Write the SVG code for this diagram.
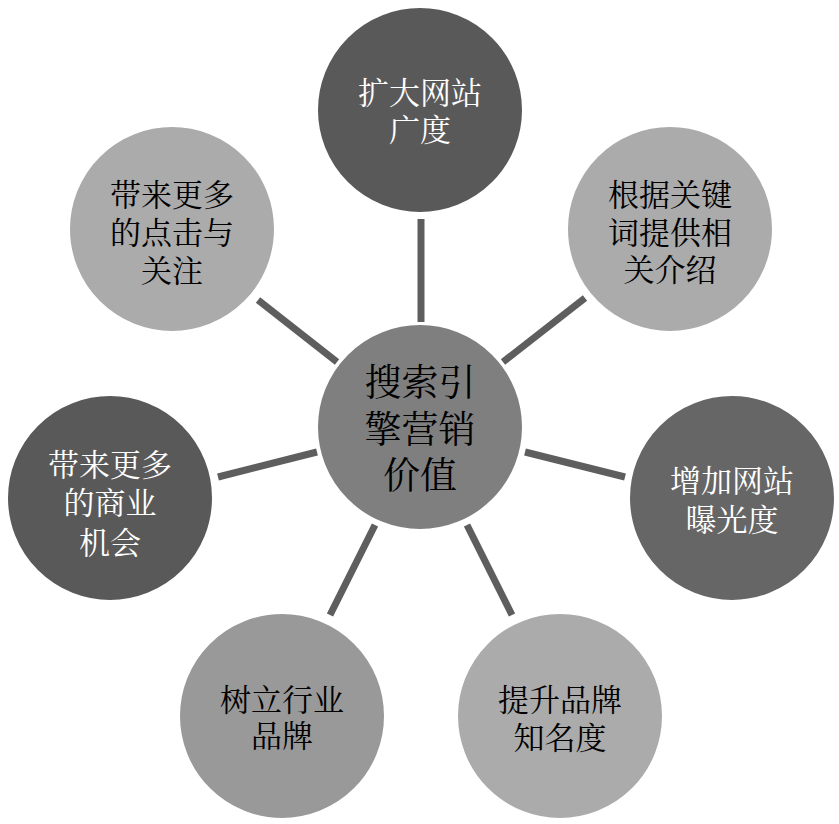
<svg xmlns="http://www.w3.org/2000/svg" width="839" height="824" viewBox="0 0 839 824">
<style>
text{font-family:"Noto Serif CJK SC","Noto Sans CJK SC",serif;text-anchor:middle;dominant-baseline:central;font-size:31px}
text.big{font-size:37px}
.d{fill:#fff}.l{fill:#000}
.c{stroke:#fff;stroke-width:2}
.ln{stroke:#5e5e5e;stroke-width:7;fill:none}
</style>
<rect width="839" height="824" fill="#fff"/>
<g id="connectors">
<line class="ln" x1="421" y1="219" x2="421" y2="322"/>
<line class="ln" x1="585" y1="298" x2="503" y2="362"/>
<line class="ln" x1="525" y1="452" x2="625" y2="477"/>
<line class="ln" x1="467" y1="525" x2="512" y2="615"/>
<line class="ln" x1="375" y1="525" x2="330" y2="615"/>
<line class="ln" x1="218" y1="477" x2="317" y2="452"/>
<line class="ln" x1="258" y1="300" x2="337" y2="362"/>
</g>
<g id="center">
<circle class="c" cx="420" cy="427" r="103" fill="#7f7f7f"/>
<text class="l big" x="420" y="380">搜索引</text>
<text class="l big" x="420" y="427">擎营销</text>
<text class="l big" x="420" y="473">价值</text>
</g>
<g id="n-top">
<circle class="c" cx="420" cy="110" r="103" fill="#595959"/>
<text class="d" x="420" y="90">扩大网站</text>
<text class="d" x="420" y="127">广度</text>
</g>
<g id="n-topright">
<circle class="c" cx="670" cy="229" r="103" fill="#ababab"/>
<text class="l" x="670" y="192">根据关键</text>
<text class="l" x="670" y="230">词提供相</text>
<text class="l" x="670" y="267">关介绍</text>
</g>
<g id="n-right">
<circle class="c" cx="732" cy="498" r="103" fill="#666666"/>
<text class="d" x="732" y="478">增加网站</text>
<text class="d" x="732" y="517">曝光度</text>
</g>
<g id="n-bottomright">
<circle class="c" cx="560" cy="716" r="103" fill="#ababab"/>
<text class="l" x="560" y="697">提升品牌</text>
<text class="l" x="560" y="735">知名度</text>
</g>
<g id="n-bottomleft">
<circle class="c" cx="282" cy="716" r="103" fill="#999999"/>
<text class="l" x="282" y="697">树立行业</text>
<text class="l" x="282" y="733">品牌</text>
</g>
<g id="n-left">
<circle class="c" cx="110" cy="498" r="103" fill="#595959"/>
<text class="d" x="110" y="462">带来更多</text>
<text class="d" x="110" y="500">的商业</text>
<text class="d" x="110" y="540">机会</text>
</g>
<g id="n-topleft">
<circle class="c" cx="172" cy="229" r="103" fill="#ababab"/>
<text class="l" x="172" y="192">带来更多</text>
<text class="l" x="172" y="230">的点击与</text>
<text class="l" x="172" y="268">关注</text>
</g>
</svg>
